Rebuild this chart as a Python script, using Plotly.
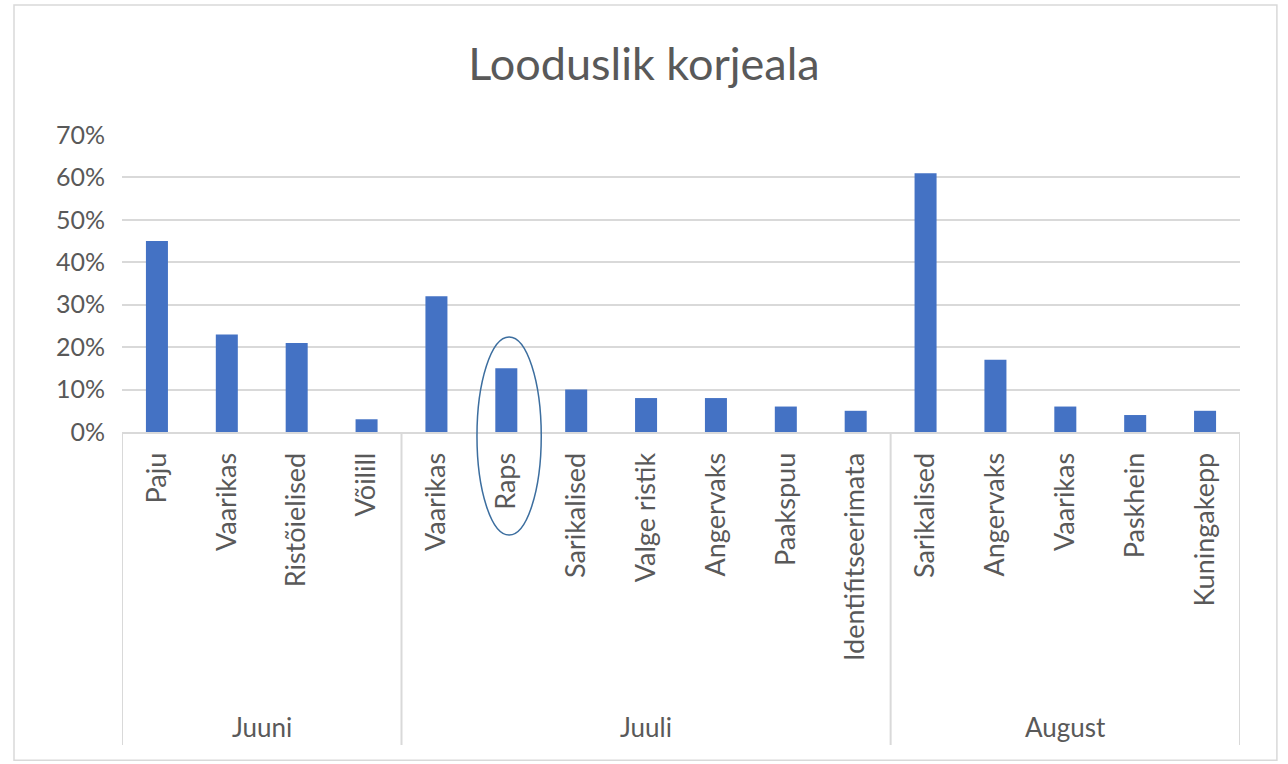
import plotly.graph_objects as go

# Andmed
months = ["Juuni", "Juuli", "August"]
month_sizes = [4, 7, 5]
plants = [
    "Paju", "Vaarikas", "Ristõielised", "Võilill",
    "Vaarikas", "Raps", "Sarikalised", "Valge ristik", "Angervaks", "Paakspuu", "Identifitseerimata",
    "Sarikalised", "Angervaks", "Vaarikas", "Paskhein", "Kuningakepp",
]
shares = [0.45, 0.23, 0.21, 0.03,
          0.32, 0.15, 0.10, 0.08, 0.08, 0.06, 0.05,
          0.61, 0.17, 0.06, 0.04, 0.05]
highlight = "Raps"

font_family = "Lato, 'Open Sans', sans-serif"
text_gray = "#595959"
grid_gray = "#d9d9d9"

idx = list(range(len(plants)))

fig = go.Figure()
fig.add_trace(
    go.Bar(
        x=idx,
        y=shares,
        marker=dict(color="#4472c4", line=dict(width=0)),
        hoverinfo="skip",
    )
)

# kuude jaotusjooned ja nimed kategooriatelje all
start = 0
bounds = [-0.5]
for name, n in zip(months, month_sizes):
    fig.add_annotation(
        x=start + (n - 1) / 2, xref="x",
        y=-0.993, yref="paper",
        text=name, showarrow=False,
        font=dict(size=26, color=text_gray),
        yanchor="middle",
    )
    start += n
    bounds.append(start - 0.5)

for b in bounds:
    fig.add_shape(
        type="line", xref="x", yref="paper",
        x0=b, x1=b, y0=0, y1=-1.054,
        line=dict(color=grid_gray, width=2),
    )

# Raps on ringiga esile toodud
h = plants.index(highlight)
fig.add_shape(
    type="circle",
    xref="x", yref="paper",
    x0=h - 0.42, x1=h + 0.5,
    y0=-0.347, y1=0.32,
    line=dict(color="#3c6e9f", width=1.5),
)

# raam ümber diagrammi
fig.add_shape(
    type="rect", xref="paper", yref="paper",
    x0=-0.0966, x1=1.033, y0=-1.105, y1=1.4377,
    line=dict(color=grid_gray, width=1.5),
)

fig.update_layout(
    width=1288,
    height=764,
    margin=dict(l=122, r=48, t=135, b=332, autoexpand=False),
    paper_bgcolor="white",
    plot_bgcolor="white",
    title=dict(
        text="Looduslik korjeala",
        x=0.5, xanchor="center",
        y=0.916, yanchor="middle",
        font=dict(family=font_family, size=45, color=text_gray),
    ),
    font=dict(family=font_family, color=text_gray),
    bargap=0.685,
    showlegend=False,
    xaxis=dict(
        tickmode="array",
        tickvals=idx,
        ticktext=plants,
        tickangle=-90,
        tickfont=dict(size=27, color=text_gray),
        range=[-0.5, len(plants) - 0.5],
        showline=True,
        linecolor=grid_gray,
        linewidth=2,
        ticks="",
        showgrid=False,
        zeroline=False,
        ticklabelstandoff=8,
        automargin=False,
    ),
    yaxis=dict(
        range=[0, 0.7],
        dtick=0.1,
        tickformat=".0%",
        tickfont=dict(size=25, color=text_gray),
        showgrid=True,
        gridcolor=grid_gray,
        gridwidth=2,
        zeroline=False,
        showline=False,
        ticklabelstandoff=16,
        automargin=False,
    ),
)

# lehe vaikimisi veeris ära, et joonis mahuks aknasse
fig.write_html(
    "out.html",
    config={"displayModeBar": False},
    post_script="document.body.style.margin='0';",
)
